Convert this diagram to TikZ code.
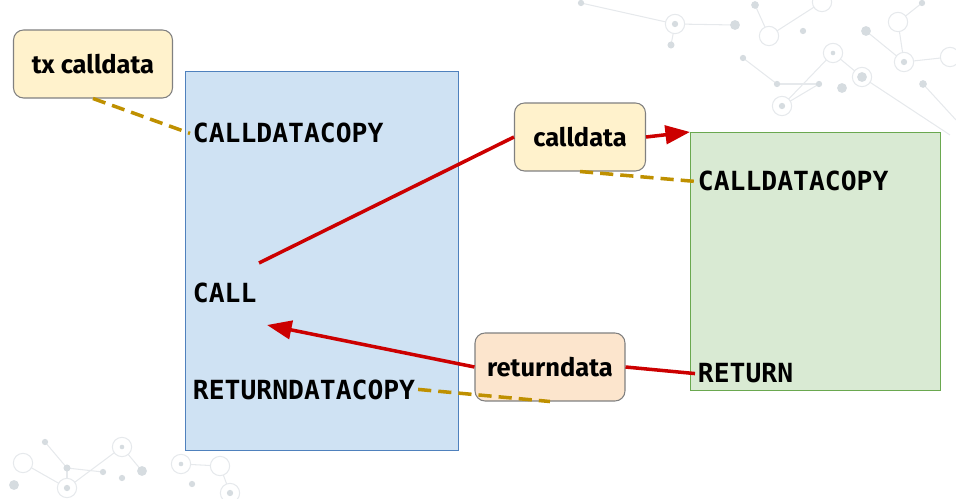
\documentclass[tikz,border=0pt]{standalone}
\usepackage{fontspec}
\setmainfont{Fira Sans}
\newfontfamily\opfont{DejaVu Sans Mono}
\usetikzlibrary{arrows.meta}

\definecolor{callerfill}{HTML}{CFE2F3}
\definecolor{callerline}{HTML}{4F81BD}
\definecolor{calleefill}{HTML}{D9EAD3}
\definecolor{calleeline}{HTML}{6AA84F}
\definecolor{datafill}{HTML}{FFF2CC}
\definecolor{retfill}{HTML}{FCE5CD}
\definecolor{flowred}{HTML}{CC0000}
\definecolor{copygold}{HTML}{BF9000}
\definecolor{netline}{HTML}{E6E9EC}
\definecolor{netdot}{HTML}{D6DCE0}

\begin{document}
\begin{tikzpicture}[x=0.02cm,y=-0.02cm,
  ctxbox/.style={draw,line width=0.6pt,inner sep=0pt,anchor=north west},
  databox/.style={draw=black!50,line width=0.6pt,rounded corners=0.2cm,
    minimum height=1.36cm,inner sep=0pt,font=\fontsize{14.5}{16}\selectfont\bfseries},
  opcode/.style={anchor=base west,inner sep=1.5pt,
    font=\opfont\fontsize{15}{18}\selectfont\bfseries},
  flow/.style={draw=flowred,line width=2pt},
  copyline/.style={draw=copygold,line width=2pt,dash pattern=on 7.5pt off 4pt}]
\useasboundingbox (0,0) rectangle (956,499);

% faint network in the corners
\begin{scope}[netline,line width=0.6pt]
\foreach \xa/\ya/\xb/\yb in {581/3/675/24,675/24/735/25,675/24/671/45,
  755/5/769/36,769/36/822/2,743/58/777/84,777/84/819/84,782/106/833/53,
  782/106/819/84,833/53/862/77,862/77/950/135,866/31/904/62,904/62/950/57,
  904/62/898/22,923/84/956/120,898/22/922/3,
  45/442/67/468,67/468/103/472,67/468/67/488,67/488/122/447,
  122/447/142/471,181/464/220/466,220/466/230/493,23/463/67/488}
  \draw (\xa,\ya) -- (\xb,\yb);
\foreach \x/\y in {675/24,769/36,833/53,898/22,904/62,950/57,782/106,
  822/2,862/77,23/463,67/488,122/447,181/464,220/466,230/493}
  \draw[fill=white] (\x,\y) circle (5.5pt);
\end{scope}
\foreach \x/\y/\r in {581/3/1.8,671/45/2,735/25/2.8,755/5/2.2,803/31/1.8,
  743/58/1.8,777/84/1.8,819/84/1.8,842/88/2.8,866/31/2.8,922/3/1.8,
  923/84/2.2,782/106/1.8,833/53/1.3,904/62/1.8,862/77/2.8,675/24/1.8,
  45/442/1.8,67/468/2,103/472/1.8,142/471/2.8,122/478/1.8,192/484/1.8,
  14/485/2.8,67/488/1.8,122/447/1.3,181/464/1.3,230/493/1.8}
  \fill[netdot] (\x,\y) circle (\r pt);

% call contexts
\node[ctxbox,draw=callerline,fill=callerfill,minimum width=5.46cm,
  minimum height=7.58cm] (caller) at (185,71) {};
\node[ctxbox,draw=calleeline,fill=calleefill,minimum width=5.0cm,
  minimum height=5.16cm] (callee) at (690,132) {};

% data areas
\node[databox,fill=datafill,minimum width=3.18cm] (txcd) at (93,64) {tx calldata};
\node[databox,fill=datafill,minimum width=2.62cm] (cd) at (580,137) {calldata};
\node[databox,fill=retfill,minimum width=3.0cm] (rd) at (550,367) {returndata};

% opcodes
\node[opcode] (cdcA) at (190,143) {CALLDATACOPY};
\node[opcode] (call) at (190,303) {CALL};
\node[opcode] (rdc) at (190,399) {RETURNDATACOPY};
\node[opcode] (cdcB) at (695,191) {CALLDATACOPY};
\node[opcode] (ret) at (695,383) {RETURN};

\coordinate (callout) at (259,263);
\coordinate (callin) at (267,325);

% flows
\draw[flow] (callout) -- (cd.west);
\draw[flow,-{Triangle[length=14pt,width=10.5pt]}] (cd.east) -- (callee.north west);
\draw[flow] (ret.west) -- (rd.east);
\draw[flow,-{Triangle[length=14pt,width=10.5pt]}] (rd.west) -- (callin);

% copies
\draw[copyline] (txcd.south) -- (cdcA.west);
\draw[copyline] (cd.south) -- (cdcB.west);
\draw[copyline] (rdc.east) -- (rd.south);

\end{tikzpicture}
\end{document}
